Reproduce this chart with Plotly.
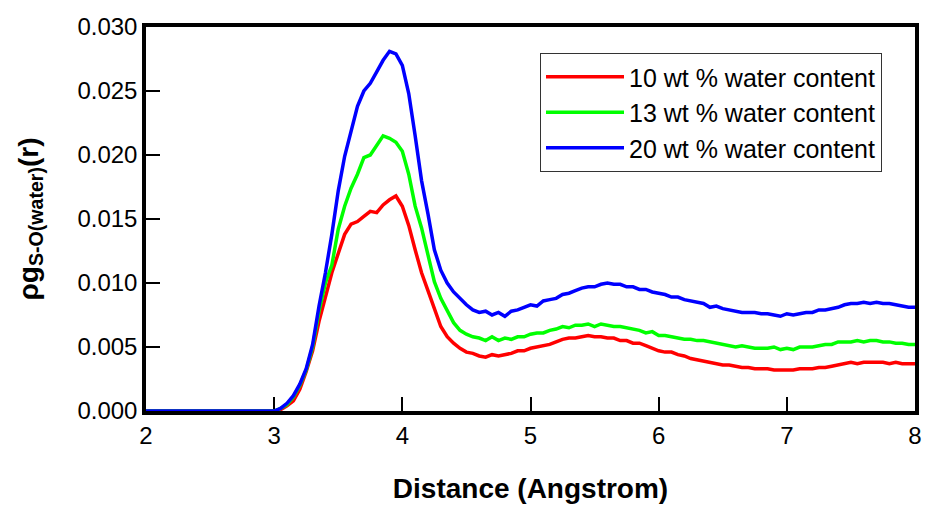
import numpy as np
import plotly.graph_objects as go

# distance grid (Angstrom): 2.00 .. 8.00 step 0.05
distance = [round(2.0 + 0.05 * i, 2) for i in range(121)]

zeros_before_3 = [0.0] * 20  # 2.00 .. 2.95

# values for r = 3.00 .. 8.00 (step 0.05)
water_10 = zeros_before_3 + [
    0.0000, 0.0001, 0.0004, 0.0008, 0.0017, 0.0031, 0.0047, 0.0070, 0.0090, 0.0108,
    0.0123, 0.0138, 0.0146, 0.0148, 0.0152, 0.0156, 0.0155, 0.0161, 0.0165, 0.0168,
    0.0160, 0.0145, 0.0126, 0.0108, 0.0094, 0.0079, 0.0066, 0.0058, 0.0053, 0.0049,
    0.0046, 0.0045, 0.0043, 0.0042, 0.0044, 0.0043, 0.0044, 0.0045, 0.0047, 0.0047,
    0.0049, 0.0050, 0.0051, 0.0052, 0.0054, 0.0056, 0.0057, 0.0057, 0.0058, 0.0059,
    0.0058, 0.0058, 0.0057, 0.0057, 0.0055, 0.0055, 0.0053, 0.0053, 0.0051, 0.0049,
    0.0047, 0.0046, 0.0046, 0.0044, 0.0043, 0.0041, 0.0040, 0.0039, 0.0038, 0.0037,
    0.0036, 0.0036, 0.0035, 0.0034, 0.0034, 0.0033, 0.0033, 0.0033, 0.0032, 0.0032,
    0.0032, 0.0032, 0.0033, 0.0033, 0.0033, 0.0034, 0.0034, 0.0035, 0.0036, 0.0037,
    0.0038, 0.0037, 0.0038, 0.0038, 0.0038, 0.0038, 0.0037, 0.0038, 0.0037, 0.0037,
    0.0037,
]

water_13 = zeros_before_3 + [
    0.0000, 0.0002, 0.0005, 0.0011, 0.0020, 0.0032, 0.0050, 0.0078, 0.0100, 0.0114,
    0.0142, 0.0160, 0.0174, 0.0185, 0.0198, 0.0200, 0.0207, 0.0215, 0.0213, 0.0210,
    0.0203, 0.0185, 0.0160, 0.0143, 0.0122, 0.0101, 0.0088, 0.0079, 0.0069, 0.0063,
    0.0060, 0.0058, 0.0057, 0.0055, 0.0058, 0.0055, 0.0057, 0.0056, 0.0058, 0.0058,
    0.0060, 0.0061, 0.0061, 0.0063, 0.0064, 0.0066, 0.0065, 0.0067, 0.0067, 0.0068,
    0.0066, 0.0068, 0.0067, 0.0066, 0.0066, 0.0065, 0.0064, 0.0063, 0.0061, 0.0062,
    0.0059, 0.0059, 0.0058, 0.0057, 0.0056, 0.0056, 0.0055, 0.0055, 0.0054, 0.0053,
    0.0052, 0.0051, 0.0050, 0.0051, 0.0050, 0.0049, 0.0049, 0.0049, 0.0050, 0.0048,
    0.0049, 0.0048, 0.0050, 0.0050, 0.0050, 0.0051, 0.0052, 0.0052, 0.0054, 0.0054,
    0.0054, 0.0055, 0.0054, 0.0055, 0.0055, 0.0054, 0.0054, 0.0053, 0.0053, 0.0052,
    0.0052,
]

water_20 = zeros_before_3 + [
    0.0000, 0.0002, 0.0006, 0.0012, 0.0021, 0.0033, 0.0052, 0.0082, 0.0108, 0.0138,
    0.0172, 0.0199, 0.0218, 0.0238, 0.0250, 0.0256, 0.0265, 0.0274, 0.0281, 0.0279,
    0.0270, 0.0248, 0.0215, 0.0180, 0.0154, 0.0126, 0.0110, 0.0100, 0.0093, 0.0088,
    0.0083, 0.0079, 0.0077, 0.0078, 0.0075, 0.0077, 0.0074, 0.0078, 0.0079, 0.0081,
    0.0083, 0.0082, 0.0086, 0.0087, 0.0088, 0.0091, 0.0092, 0.0094, 0.0096, 0.0097,
    0.0097, 0.0099, 0.0100, 0.0099, 0.0099, 0.0097, 0.0097, 0.0095, 0.0095, 0.0093,
    0.0092, 0.0091, 0.0089, 0.0089, 0.0087, 0.0086, 0.0085, 0.0084, 0.0081, 0.0082,
    0.0080, 0.0079, 0.0078, 0.0077, 0.0077, 0.0077, 0.0076, 0.0076, 0.0075, 0.0074,
    0.0076, 0.0075, 0.0076, 0.0077, 0.0077, 0.0079, 0.0079, 0.0080, 0.0081, 0.0083,
    0.0084, 0.0084, 0.0085, 0.0084, 0.0085, 0.0084, 0.0084, 0.0083, 0.0082, 0.0081,
    0.0081,
]

series_names = ["10 wt % water content", "13 wt % water content", "20 wt % water content"]
series_values = [water_10, water_13, water_20]
series_colors = ["#ff0000", "#00ff00", "#0000ff"]

x_ticks = [2, 3, 4, 5, 6, 7, 8]
y_ticks = [0.000, 0.005, 0.010, 0.015, 0.020, 0.025, 0.030]

FONT = "Liberation Sans, Arial, Helvetica, sans-serif"

PLOT_L, PLOT_R, PLOT_T, PLOT_B = 146, 915, 27, 411
PW, PH = PLOT_R - PLOT_L, PLOT_B - PLOT_T

fig = go.Figure()
for name, vals, col in zip(series_names, series_values, series_colors):
    fig.add_trace(go.Scatter(x=distance, y=vals, mode="lines", name=name,
                             line=dict(color=col, width=3.5)))

fig.update_layout(
    width=925, height=506,
    margin=dict(l=PLOT_L, r=925 - PLOT_R, t=PLOT_T, b=506 - PLOT_B, autoexpand=False),
    paper_bgcolor="white", plot_bgcolor="white",
    font=dict(family=FONT, size=24, color="black"),
    showlegend=True,
    legend=dict(
        x=(540 - PLOT_L) / PW, y=(PLOT_B - 53) / PH, xanchor="left", yanchor="top",
        bordercolor="#333333", borderwidth=1, bgcolor="white",
        font=dict(size=25, family=FONT),
        itemwidth=78,
        entrywidth=345,
        tracegroupgap=0,
    ),
    xaxis=dict(
        range=[2, 8], tickvals=x_ticks, ticktext=[str(v) for v in x_ticks],
        ticks="inside", ticklen=14, tickwidth=1.5, tickcolor="black",
        showline=True, linecolor="black", linewidth=3.5, mirror=True,
        showgrid=False, zeroline=False, layer="below traces", automargin=False,
        tickfont=dict(size=24),
        title=dict(text="<b>Distance (Angstrom)</b>", font=dict(size=28), standoff=32),
    ),
    yaxis=dict(
        range=[0, 0.030], tickvals=y_ticks, ticktext=[f"{v:.3f}" for v in y_ticks],
        ticks="inside", ticklen=14, tickwidth=1.5, tickcolor="black",
        showline=True, linecolor="black", linewidth=3.5, mirror=True,
        showgrid=False, zeroline=False, layer="below traces", automargin=False,
        tickfont=dict(size=24),
        title=dict(text="<b>ρg<sub>S-O(water)</sub>(r)</b>", font=dict(size=28), standoff=32),
    ),
)

fig.write_html("out.html")
